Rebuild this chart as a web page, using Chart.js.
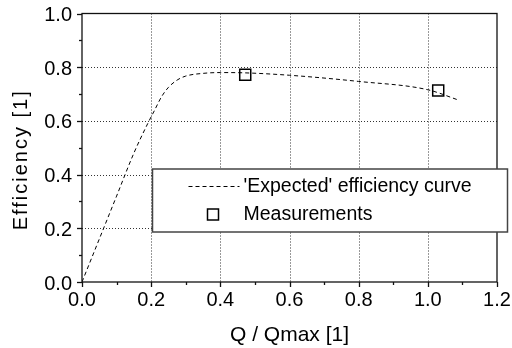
<!DOCTYPE html>
<html>
<head>
<meta charset="utf-8">
<script src="https://cdn.jsdelivr.net/npm/chart.js@4.4.0/dist/chart.umd.min.js"></script>
<style>
  html, body { margin: 0; padding: 0; background: #fff; }
  #wrap { width: 512px; height: 348px; }
</style>
</head>
<body>
<div id="wrap"><canvas id="grafico" width="512" height="348"></canvas></div>
<script>
// curva esperada
const curvaQ = [0, 0.05, 0.10, 0.15, 0.19, 0.21, 0.23, 0.25, 0.275, 0.30, 0.35, 0.40, 0.47, 0.60, 0.80, 1.00, 1.09];
const curvaEf = [0, 0.16, 0.32, 0.48, 0.59, 0.64, 0.69, 0.725, 0.752, 0.767, 0.777, 0.780, 0.779, 0.770, 0.747, 0.716, 0.677];

// mediciones
const medQ = [0.472, 1.03];
const medEf = [0.772, 0.713];

const etiquetas = ["'Expected' efficiency curve", "Measurements"];
const tituloX = "Q / Qmax [1]";
const tituloY = "Efficiency [1]";
const fuente = "'Liberation Sans', Arial, Helvetica, sans-serif";

function aPuntos(xs, ys) {
    return xs.map((x, i) => ({ x: x, y: ys[i] }));
}

const marcoYLeyenda = {
    id: "marcoYLeyenda",
    beforeDatasetsDraw(chart) {
        const ctx = chart.ctx;
        const a = chart.chartArea;
        const sx = chart.scales.x;
        const sy = chart.scales.y;
        ctx.save();
        ctx.strokeStyle = "#333";
        ctx.lineWidth = 1;
        ctx.setLineDash([1, 2]);
        for (let v = 0.2; v < 1.19; v += 0.2) {
            const px = Math.round(sx.getPixelForValue(v)) + 0.5;
            ctx.beginPath(); ctx.moveTo(px, a.top); ctx.lineTo(px, a.bottom); ctx.stroke();
        }
        for (let v = 0.2; v < 0.99; v += 0.2) {
            const py = Math.round(sy.getPixelForValue(v)) + 0.5;
            ctx.beginPath(); ctx.moveTo(a.left, py); ctx.lineTo(a.right, py); ctx.stroke();
        }
        ctx.restore();
    },
    afterDraw(chart) {
        const ctx = chart.ctx;
        const a = chart.chartArea;
        const sx = chart.scales.x;
        const sy = chart.scales.y;
        ctx.save();
        // marco
        ctx.strokeStyle = "#111";
        ctx.lineWidth = 1.3;
        ctx.setLineDash([]);
        ctx.strokeRect(a.left, a.top, a.right - a.left, a.bottom - a.top);
        // marcas de ejes
        for (let i = 0; i <= 12; i++) {
            const largo = i % 2 === 0 ? 5 : 3;
            const px = Math.round(sx.getPixelForValue(i / 10)) + 0.5;
            ctx.beginPath(); ctx.moveTo(px, a.bottom); ctx.lineTo(px, a.bottom + largo); ctx.stroke();
        }
        for (let i = 0; i <= 10; i++) {
            const largo = i % 2 === 0 ? 5 : 3;
            const py = Math.round(sy.getPixelForValue(i / 10)) + 0.5;
            ctx.beginPath(); ctx.moveTo(a.left, py); ctx.lineTo(a.left - largo, py); ctx.stroke();
        }

        // titulos de ejes
        ctx.fillStyle = "#000";
        ctx.font = "21px " + fuente;
        ctx.textAlign = "center";
        ctx.textBaseline = "alphabetic";
        ctx.fillText(tituloX, (a.left + a.right) / 2, 341);
        ctx.save();
        ctx.translate(27, (a.top + a.bottom) / 2 + 12);
        ctx.rotate(-Math.PI / 2);
        ctx.font = "20px " + fuente;
        ctx.letterSpacing = "2px";
        ctx.fillText(tituloY, 0, 0);
        ctx.restore();

        // leyenda
        const lx = a.left + 70.5, ly = 169, lw = 355, lh = 63;
        ctx.fillStyle = "#fff";
        ctx.fillRect(lx, ly, lw, lh);
        ctx.strokeStyle = "#444";
        ctx.lineWidth = 1.5;
        ctx.strokeRect(lx, ly, lw, lh);

        ctx.strokeStyle = "#000";
        ctx.lineWidth = 1;
        ctx.setLineDash([4, 3]);
        ctx.beginPath(); ctx.moveTo(lx + 36, ly + 17.5); ctx.lineTo(lx + 87, ly + 17.5); ctx.stroke();
        ctx.setLineDash([]);
        ctx.lineWidth = 1.5;
        ctx.fillStyle = "#fff";
        ctx.fillRect(lx + 55, ly + 40, 11, 11);
        ctx.strokeRect(lx + 55, ly + 40, 11, 11);

        ctx.fillStyle = "#000";
        ctx.font = "19.5px " + fuente;
        ctx.textBaseline = "middle";
        ctx.textAlign = "left";
        ctx.fillText(etiquetas[0], lx + 91, ly + 18);
        ctx.fillText(etiquetas[1], lx + 91, ly + 46);
        ctx.restore();
    }
};

new Chart(document.getElementById("grafico"), {
    type: "scatter",
    data: {
        datasets: [
            {
                label: etiquetas[0],
                data: aPuntos(curvaQ, curvaEf),
                showLine: true,
                borderColor: "#000",
                borderWidth: 1,
                borderDash: [4, 3],
                pointRadius: 0,
                cubicInterpolationMode: "monotone"
            },
            {
                label: etiquetas[1],
                data: aPuntos(medQ, medEf),
                showLine: false,
                pointStyle: "rect",
                pointRadius: 7.8,
                pointBackgroundColor: "#fff",
                pointBorderColor: "#000",
                pointBorderWidth: 1.5
            }
        ]
    },
    options: {
        responsive: false,
        animation: false,
        layout: { padding: { top: 13.5, right: 15, left: 0, bottom: 0 } },
        plugins: { legend: { display: false }, tooltip: { enabled: false } },
        scales: {
            x: {
                type: "linear",
                min: 0,
                max: 1.2,
                grid: { display: false, drawTicks: false },
                border: { display: false },
                ticks: {
                    stepSize: 0.2,
                    color: "#000",
                    padding: 6,
                    font: { size: 20, family: fuente },
                    callback: v => v.toFixed(1)
                },
                afterFit: s => { s.height = 66; s.paddingLeft = 0; s.paddingRight = 0; }
            },
            y: {
                type: "linear",
                min: 0,
                max: 1.0,
                grid: { display: false, drawTicks: false },
                border: { display: false },
                ticks: {
                    stepSize: 0.2,
                    color: "#000",
                    padding: 10,
                    labelOffset: 2,
                    font: { size: 20, family: fuente },
                    callback: v => v.toFixed(1)
                },
                afterFit: s => { s.width = 82; s.paddingTop = 0; s.paddingBottom = 0; }
            }
        }
    },
    plugins: [marcoYLeyenda]
});
</script>
</body>
</html>
